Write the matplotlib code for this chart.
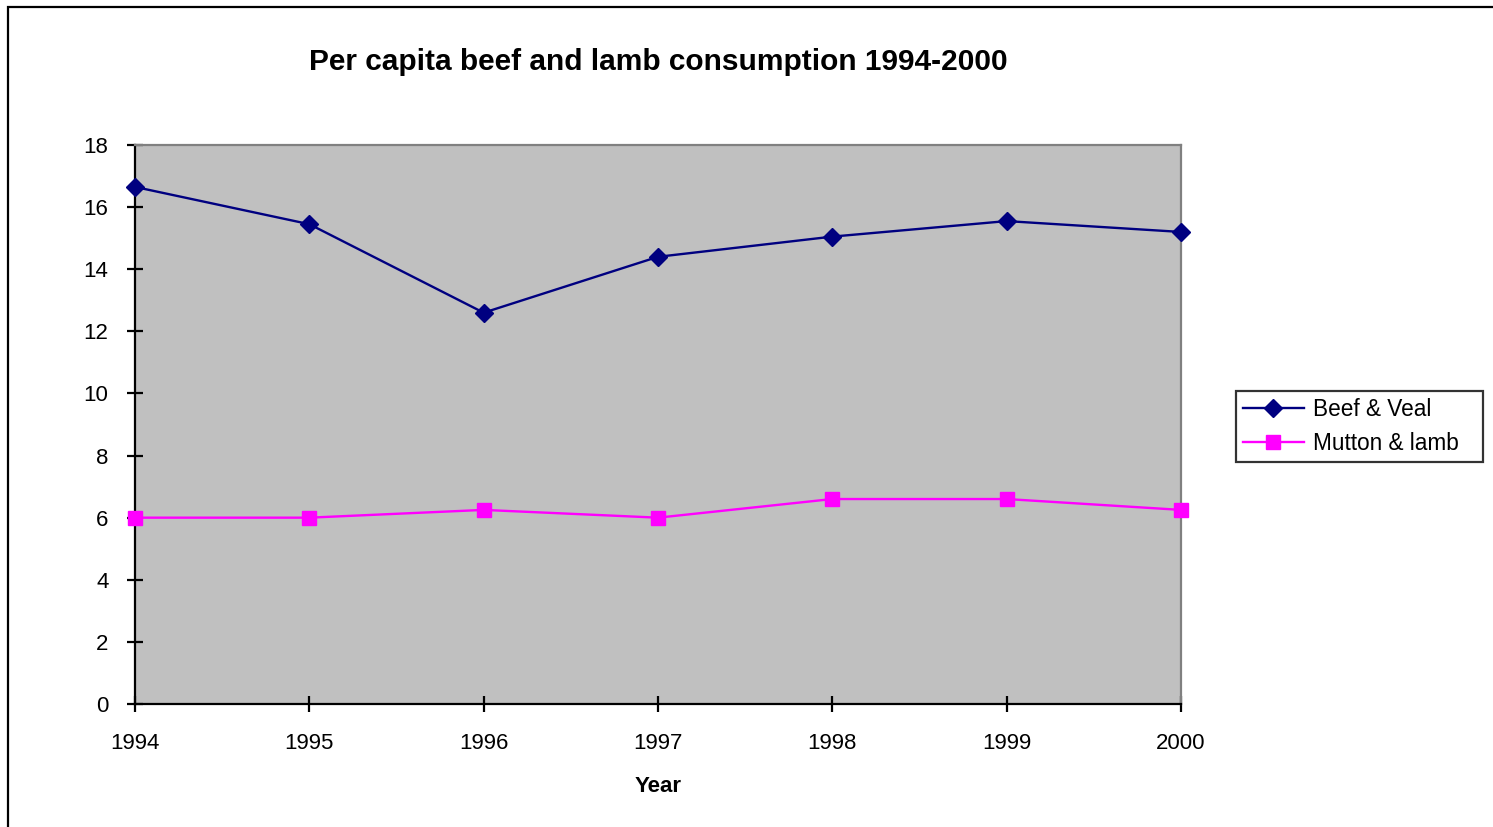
import matplotlib
matplotlib.use("Agg")
import matplotlib.pyplot as plt
from matplotlib.patches import Rectangle

years = [1994, 1995, 1996, 1997, 1998, 1999, 2000]
beef_veal = [16.65, 15.45, 12.6, 14.4, 15.05, 15.55, 15.2]
mutton_lamb = [6.0, 6.0, 6.25, 6.0, 6.6, 6.6, 6.25]
y_ticks = [0, 2, 4, 6, 8, 10, 12, 14, 16, 18]

plt.rcParams['font.family'] = ['Liberation Sans', 'DejaVu Sans']

W, H = 1493, 827
fig = plt.figure(figsize=(W / 100, H / 100), dpi=100)
ax = fig.add_axes([135 / W, 1 - 704 / H, (1181 - 135) / W, (704 - 145) / H])
ax.set_facecolor('#C0C0C0')

ax.plot(years, beef_veal, color='#000080', lw=1.7, marker='D', ms=9.5,
        label='Beef & Veal', clip_on=False, zorder=3)
ax.plot(years, mutton_lamb, color='#FF00FF', lw=1.7, marker='s', ms=10.5,
        label='Mutton & lamb', clip_on=False, zorder=3)

ax.set_xlim(years[0], years[-1])
ax.set_ylim(0, 18)
ax.set_xticks(years)
ax.set_xticklabels([str(y) for y in years])
ax.set_yticks(y_ticks)

for s in ['left', 'bottom']:
    ax.spines[s].set_color('black')
    ax.spines[s].set_linewidth(1.6)
for s in ['top', 'right']:
    ax.spines[s].set_color('#808080')
    ax.spines[s].set_linewidth(1.6)

ax.tick_params(axis='both', direction='inout', length=12, width=1.6,
               labelsize=16, colors='black')
ax.tick_params(axis='y', pad=13)
ax.tick_params(axis='x', pad=15)

ax.set_xlabel('Year', fontsize=16, fontweight='bold', labelpad=16)
fig.text(658 / W, 1 - 62 / H, 'Per capita beef and lamb consumption 1994-2000',
         ha='center', va='center', fontsize=21.5, fontweight='bold')

leg = fig.legend(loc='upper left',
                 bbox_to_anchor=(1236 / W, 1 - 462 / H, 247 / W, 71 / H),
                 mode='expand',
                 fontsize=16.3, frameon=True, fancybox=False, shadow=False,
                 handlelength=2.7, handletextpad=0.4, borderpad=0.3,
                 labelspacing=0.5, borderaxespad=0)
leg.get_frame().set_edgecolor('black')
leg.get_frame().set_linewidth(1.6)

fig.patches.append(Rectangle((8 / W, -0.1), 2, 1.1 - 7 / H, transform=fig.transFigure,
                             fill=False, edgecolor='black', lw=1.6))

fig.savefig('out.png', dpi=100)
